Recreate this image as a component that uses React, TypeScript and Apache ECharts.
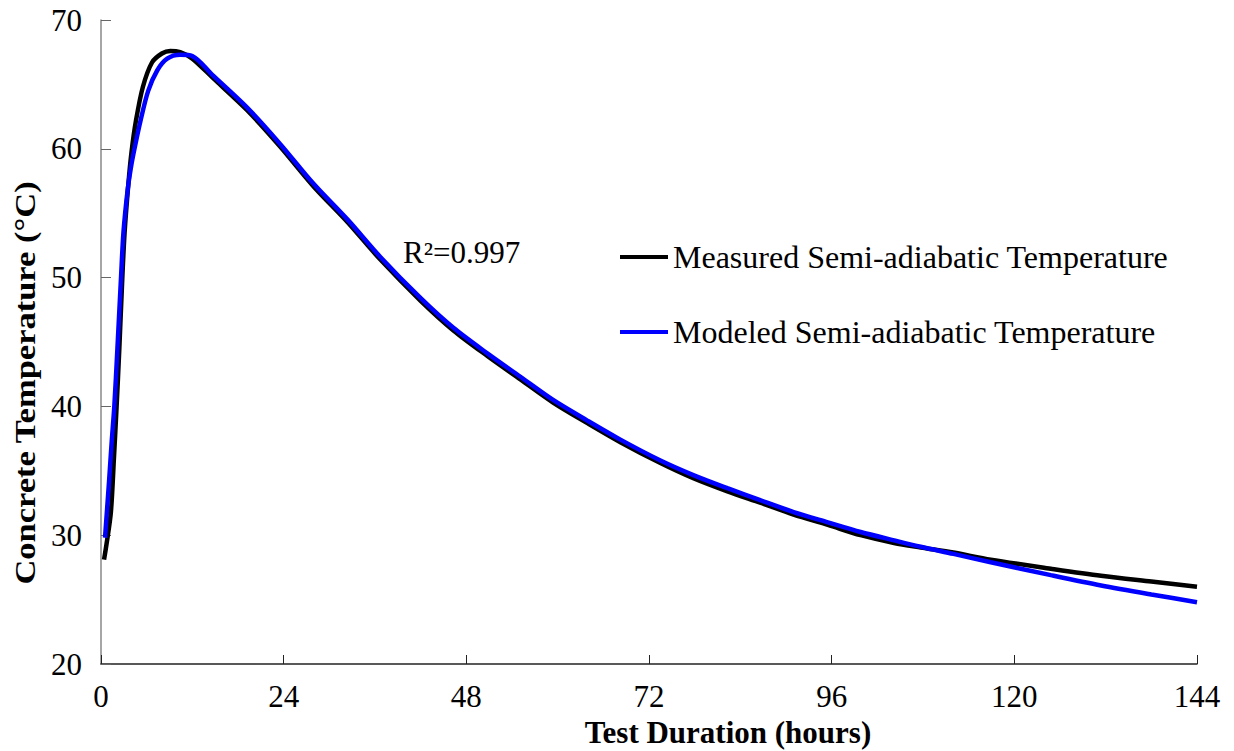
import React, { useEffect, useRef } from "react";
import * as echarts from "echarts";

const xTicks = [0, 24, 48, 72, 96, 120, 144];
const yTicks = [20, 30, 40, 50, 60, 70];

const measuredName = "Measured Semi-adiabatic Temperature";
const modeledName = "Modeled Semi-adiabatic Temperature";

const measured: [number, number][] = [
  [0.4, 28.1], [0.75, 29.4], [1.3, 31.8], [1.7, 36.0], [2.05, 40.0], [2.4, 44.4],
  [2.8, 50.0], [3.1, 53.5], [3.6, 57.3], [4.0, 59.7], [4.6, 62.2], [5.5, 64.8],
  [6.7, 66.7], [8.0, 67.4], [9.1, 67.6], [10.4, 67.5], [12, 67.0], [14.7, 65.5],
  [19.2, 63.0], [23.5, 60.2], [27.9, 57.1], [32.4, 54.3], [36.7, 51.4], [42, 48.2],
  [46.3, 45.9], [50.8, 43.9], [55.1, 42.1], [59.4, 40.3], [63.9, 38.7], [68.3, 37.2],
  [73.5, 35.6], [77.9, 34.4], [82.3, 33.4], [86.7, 32.5], [91, 31.6], [95.5, 30.8],
  [99.8, 30.0], [104.2, 29.4], [107.7, 29.05], [112, 28.65], [116.9, 28.1], [124.8, 27.4],
  [131.4, 26.85], [138, 26.4], [144, 26.0],
];

const modeled: [number, number][] = [
  [0.53, 29.8], [1.05, 34.1], [1.4, 37.2], [1.75, 40.0], [2.15, 44.4], [2.63, 50.0],
  [2.95, 53.5], [3.5, 56.8], [4.0, 58.8], [4.5, 60.3], [5.2, 62.2], [6.2, 64.5],
  [7.4, 66.1], [8.7, 67.0], [10.4, 67.3], [12, 67.2], [14.7, 65.7], [19.2, 63.2],
  [23.5, 60.4], [27.9, 57.3], [32.4, 54.5], [36.7, 51.6], [42, 48.4], [46.3, 46.1],
  [50.8, 44.1], [55.1, 42.3], [59.4, 40.5], [63.9, 38.9], [68.3, 37.4], [73.5, 35.8],
  [77.9, 34.65], [82.3, 33.65], [86.7, 32.7], [91, 31.8], [95.5, 31.0], [99.8, 30.25],
  [104.2, 29.6], [107.7, 29.1], [112, 28.55], [116.9, 27.9], [124.8, 26.9], [131.4, 26.1],
  [138, 25.4], [144, 24.8],
];

const xTitle = "Test Duration (hours)";
const yTitle = "Concrete Temperature (°C)";
const r2Text = "R²=0.997";

const FONT = "'Liberation Serif', 'Times New Roman', serif";

export default function App() {
  const ref = useRef<HTMLDivElement>(null);
  useEffect(() => {
    if (!ref.current) return;
    const chart = echarts.init(ref.current, undefined, { renderer: "svg" });
    chart.setOption({
      animation: false,
      backgroundColor: "#ffffff",
      grid: { left: 101, right: 37, top: 20, bottom: 87, containLabel: false },
      legend: {
        orient: "vertical",
        left: 615,
        top: 236,
        itemWidth: 48,
        itemHeight: 4,
        itemGap: 43,
        icon: "rect",
        textStyle: { fontFamily: FONT, fontSize: 32, color: "#000" },
        data: [measuredName, modeledName],
      },
      xAxis: {
        type: "value",
        min: xTicks[0],
        max: xTicks[xTicks.length - 1],
        interval: 24,
        axisLine: { lineStyle: { color: "#222", width: 1.5 } },
        axisTick: { inside: true, length: 9, lineStyle: { color: "#222" } },
        axisLabel: { fontFamily: FONT, fontSize: 31, color: "#000", margin: 17 },
        splitLine: { show: false },
      },
      yAxis: {
        type: "value",
        min: yTicks[0],
        max: yTicks[yTicks.length - 1],
        interval: 10,
        axisLine: { show: true, lineStyle: { color: "#888", width: 1.5 } },
        axisTick: { show: true, inside: true, length: 10, lineStyle: { color: "#666" } },
        axisLabel: { fontFamily: FONT, fontSize: 31, color: "#000", margin: 19 },
        splitLine: { show: false },
      },
      graphic: [
        {
          type: "text",
          x: 728,
          y: 732,
          style: {
            text: xTitle,
            font: `bold 31px ${FONT}`,
            fill: "#000",
            textAlign: "center",
            textVerticalAlign: "middle",
          },
        },
        {
          type: "text",
          x: 25,
          y: 383,
          rotation: Math.PI / 2,
          scaleX: 1.15,
          style: {
            text: yTitle,
            font: `bold 30px ${FONT}`,
            fill: "#000",
            textAlign: "center",
            textVerticalAlign: "middle",
          },
        },
        {
          type: "text",
          x: 403,
          y: 252,
          style: {
            text: r2Text,
            font: `31px ${FONT}`,
            fill: "#000",
            textAlign: "left",
            textVerticalAlign: "middle",
          },
        },
      ],
      series: [
        {
          name: measuredName,
          type: "line",
          data: measured,
          showSymbol: false,
          smooth: 0.3,
          lineStyle: { color: "#000000", width: 4.5 },
          itemStyle: { color: "#000000" },
          z: 2,
        },
        {
          name: modeledName,
          type: "line",
          data: modeled,
          showSymbol: false,
          smooth: 0.3,
          lineStyle: { color: "#0000ff", width: 4.5 },
          itemStyle: { color: "#0000ff" },
          z: 3,
        },
      ],
    });
    return () => chart.dispose();
  }, []);
  return (
    <div
      ref={ref}
      style={{ position: "fixed", left: 0, top: 0, width: 1234, height: 751, background: "#fff" }}
    />
  );
}
